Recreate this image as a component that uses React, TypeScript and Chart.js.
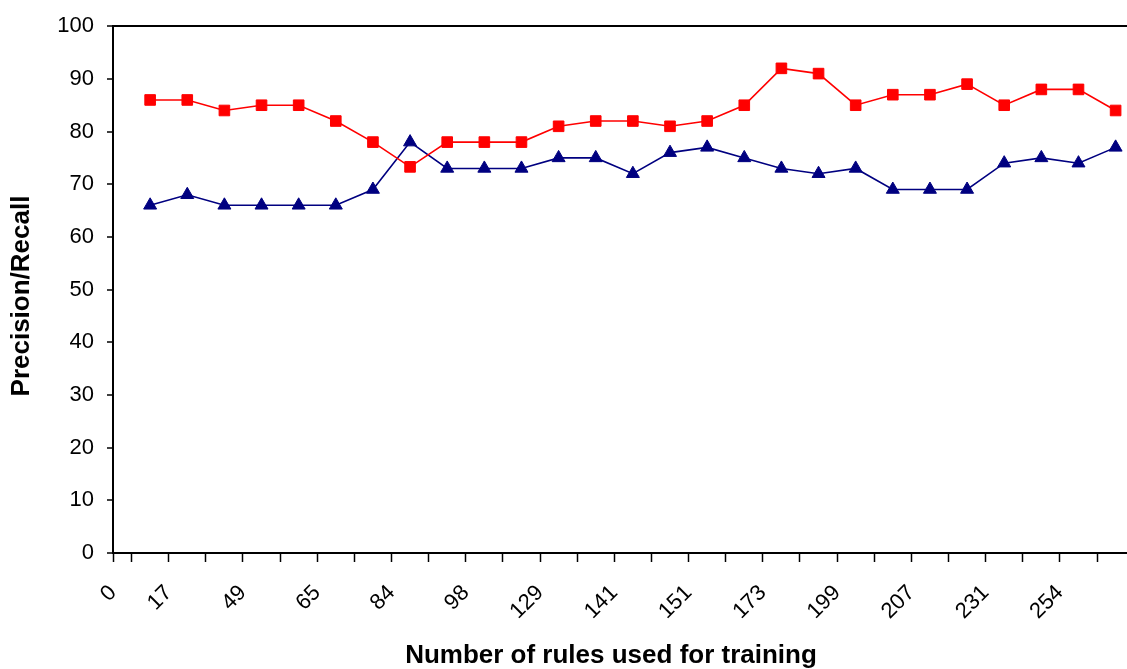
import React, { useEffect, useRef } from "react";
import { Chart, registerables } from "chart.js";

Chart.register(...registerables);

// Tick labels shown under the x axis (every other boundary)
const xTickLabels = ["0", "17", "49", "65", "84", "98", "129", "141", "151", "173", "199", "207", "231", "254"];
// Red squares
const precision = [86, 86, 84, 85, 85, 82, 78, 73.3, 78, 78, 78, 81, 82, 82, 81, 82, 85, 92, 91, 85, 87, 87, 89, 85, 88, 88, 84];
// Navy triangles
const recall = [66, 68, 66, 66, 66, 66, 69, 78, 73, 73, 73, 75, 75, 72, 76, 77, 75, 73, 72, 73, 69, 69, 69, 74, 75, 74, 77];

const xTitle = "Number of rules used for training";
const yTitle = "Precision/Recall";

const FONT = '"Liberation Sans", Arial, sans-serif';

export default function App() {
  const ref = useRef<HTMLCanvasElement | null>(null);

  useEffect(() => {
    if (!ref.current) return;
    const n = precision.length;
    // tick marks: axis origin plus every boundary between points
    const tickValues: number[] = [0];
    for (let i = 0; i <= n; i++) tickValues.push(i + 0.5);
    const labelFor = (v: number) => {
      if (v === 0) return xTickLabels[0];
      const k = (v + 0.5) / 2;
      if (Number.isInteger(k) && k >= 1 && k < xTickLabels.length) return xTickLabels[k];
      return "";
    };

    const titles = {
      id: "titles",
      afterDraw(chart: any) {
        const c = chart.ctx;
        c.save();
        c.fillStyle = "#000";
        c.font = `bold 26px ${FONT}`;
        c.textAlign = "center";
        c.textBaseline = "middle";
        c.fillText(xTitle, 611, 656);
        c.translate(22, 296);
        c.rotate(-Math.PI / 2);
        c.fillText(yTitle, 0, 0);
        c.restore();
      },
    };

    const chart = new Chart(ref.current, {
      type: "line",
      data: {
        datasets: [
          {
            label: "Precision",
            data: precision.map((v, i) => ({ x: i + 1, y: v })),
            borderColor: "#FF0000",
            backgroundColor: "#FF0000",
            borderWidth: 1.6,
            pointStyle: "rect",
            pointRadius: 7.5,
            pointBorderWidth: 1,
            tension: 0,
          },
          {
            label: "Recall",
            data: recall.map((v, i) => ({ x: i + 1, y: v })),
            borderColor: "#000080",
            backgroundColor: "#000080",
            borderWidth: 1.6,
            pointStyle: "triangle",
            pointRadius: 7.5,
            pointBorderWidth: 1,
            tension: 0,
          },
        ],
      },
      options: {
        animation: false,
        responsive: true,
        maintainAspectRatio: false,
        layout: { padding: { top: 22, left: 0, right: 1, bottom: 0 } },
        plugins: { legend: { display: false }, tooltip: { enabled: false } },
        scales: {
          x: {
            type: "linear",
            min: 0,
            max: n + 1,
            afterBuildTicks: (scale: any) => {
              scale.ticks = tickValues.map((v) => ({ value: v }));
            },
            afterFit: (scale: any) => {
              scale.height = 116;
            },
            ticks: {
              autoSkip: false,
              minRotation: 45,
              maxRotation: 45,
              padding: 18,
              color: "#000",
              font: { family: FONT, size: 22 },
              callback: (v: any) => labelFor(Number(v)),
            },
            grid: {
              drawOnChartArea: false,
              drawTicks: true,
              tickLength: 9,
              tickColor: "#000",
              tickWidth: 1.5,
            },
            border: { color: "#000", width: 2 },
          },
          y: {
            min: 0,
            max: 100,
            ticks: {
              stepSize: 10,
              padding: 13,
              color: "#000",
              font: { family: FONT, size: 22 },
            },
            afterFit: (scale: any) => {
              scale.width = 113;
            },
            grid: {
              color: (ctx: any) => (ctx.tick && ctx.tick.value === 100 ? "#000" : "rgba(0,0,0,0)"),
              lineWidth: 2,
              tickLength: 6,
              tickColor: "#000",
              tickWidth: 1.5,
            },
            border: { color: "#000", width: 2 },
          },
        },
      },
      plugins: [titles],
    });
    return () => chart.destroy();
  }, []);

  return (
    <div style={{ position: "absolute", left: 0, top: 0, width: 1127, height: 669, overflow: "hidden", background: "#fff" }}>
      <div style={{ position: "relative", width: 1171, height: 669 }}>
        <canvas ref={ref} />
      </div>
    </div>
  );
}
